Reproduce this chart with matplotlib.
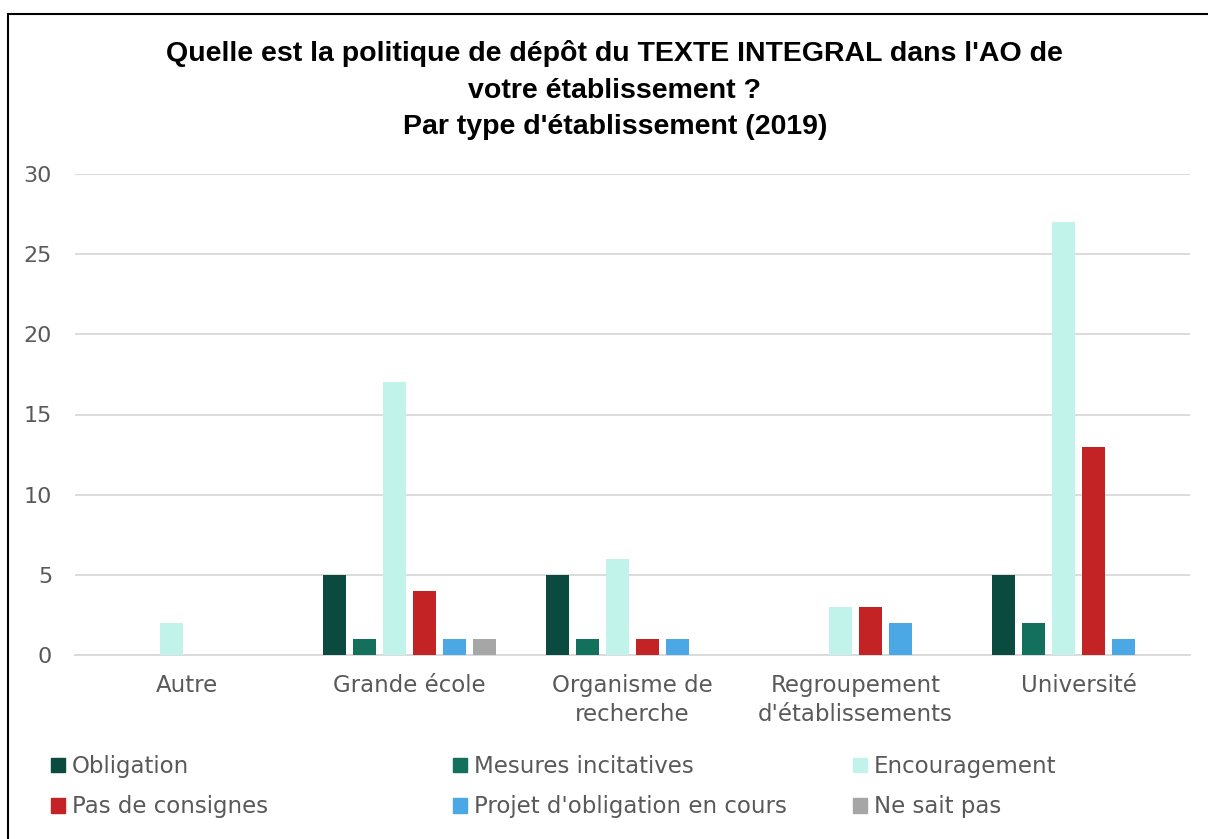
import numpy as np
import matplotlib.pyplot as plt
from matplotlib.patches import Rectangle, Patch

categories = ["Autre", "Grande école", "Organisme de\nrecherche", "Regroupement\nd'établissements", "Université"]
series = ["Obligation", "Mesures incitatives", "Encouragement",
          "Pas de consignes", "Projet d'obligation en cours", "Ne sait pas"]
obligation = [0, 5, 5, 0, 5]
mesures = [0, 1, 1, 0, 2]
encouragement = [2, 17, 6, 3, 27]
pas_consignes = [0, 4, 1, 3, 13]
projet = [0, 1, 1, 2, 1]
ne_sait_pas = [0, 1, 0, 0, 0]
colors = ["#0B4A3E", "#12705C", "#C2F3EA", "#C42325", "#4BA8E4", "#A6A6A6"]

values = [obligation, mesures, encouragement, pas_consignes, projet, ne_sait_pas]

plt.rcParams['font.family'] = ['DejaVu Sans']

fig = plt.figure(figsize=(12.08, 8.39), dpi=100)
ax = fig.add_axes([75 / 1208, 1 - 655 / 839, 1115 / 1208, 481 / 839])

x = np.arange(len(categories))
step = 0.1345
width = 0.103
for i, (name, vals, c) in enumerate(zip(series, values, colors)):
    ax.bar(x + (i - 2.5) * step, vals, width, color=c, label=name, zorder=3)

ax.set_xlim(-0.5, len(categories) - 0.5)
ax.set_ylim(0, 30)
ax.set_yticks(range(0, 31, 5))
ax.yaxis.grid(True, color="#D9D9D9", linewidth=1.3, zorder=0)
ax.set_axisbelow(True)
for s in ["top", "right", "left"]:
    ax.spines[s].set_visible(False)
ax.spines["bottom"].set_color("#D9D9D9")
ax.spines["bottom"].set_linewidth(1.3)
ax.set_xticks(x)
ax.set_xticklabels(categories, fontsize=16.5, color="#595959", linespacing=1.3)
ax.tick_params(axis="y", length=0, labelsize=16, labelcolor="#595959", pad=16.5)
ax.tick_params(axis="x", length=0, pad=14)

fig.text(0.509, 1 - 90 / 839,
         "Quelle est la politique de dépôt du TEXTE INTEGRAL dans l'AO de\nvotre établissement ?\nPar type d'établissement (2019)",
         ha="center", va="center", fontsize=20.5, fontweight="bold",
         family=["Liberation Sans", "DejaVu Sans"], linespacing=1.52)

# legend: three columns of two entries each
col_x = [42, 444, 844]
for col in range(3):
    idx = [col, col + 3]
    fig.legend([Patch(color=colors[i]) for i in idx], [series[i] for i in idx],
               loc="upper left", bbox_to_anchor=(col_x[col] / 1208, 1 - 746 / 839),
               frameon=False, fontsize=16.5, labelcolor="#595959", borderaxespad=0,
               handlelength=0.6, handleheight=0.6, handletextpad=0.3, labelspacing=0.75)

fig.add_artist(Rectangle((8 / 1208, -0.01), 1.2, 1 - 14 / 839 + 0.01, transform=fig.transFigure,
                         fill=False, edgecolor="black", linewidth=1.5))

fig.savefig("out.png", dpi=100)
